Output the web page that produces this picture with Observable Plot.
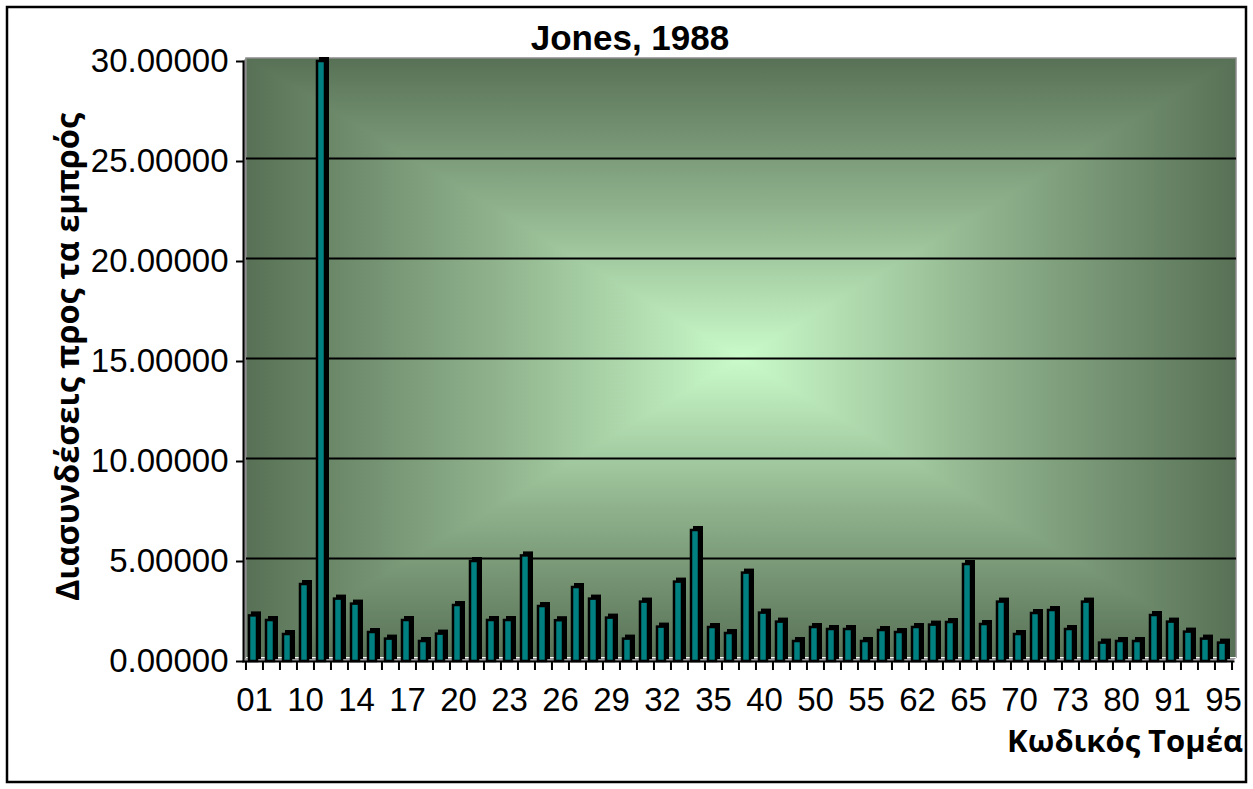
<!DOCTYPE html>
<html>
<head>
<meta charset="utf-8">
<script src="https://cdn.jsdelivr.net/npm/d3@7"></script>
<script src="https://cdn.jsdelivr.net/npm/@observablehq/plot@0.6"></script>
<style>
  body { margin: 0; background: #fff; }
  #chart { width: 1253px; height: 789px; }
</style>
</head>
<body>
<div id="chart"></div>
<script>
// Sector codes (NACE two-digit) along the x axis
const codes = ["01","02","05","10","11","13","14","15","16","17","18","19","20","21","22",
  "23","24","25","26","27","28","29","30","31","32","33","34","35","36","37","40","41",
  "45","50","51","52","55","60","61","62","63","64","65","66","67","70","71","72","73",
  "74","75","80","85","90","91","92","93","95"];

// Forward linkages per sector
const linkages = [2.28, 2.05, 1.35, 3.85, 30.0, 3.12, 2.87, 1.45, 1.12, 2.05, 1.00, 1.37,
  2.80, 5.00, 2.05, 2.05, 5.28, 2.75, 2.04, 3.70, 3.12, 2.17, 1.12, 2.97, 1.72, 3.97,
  6.55, 1.70, 1.40, 4.42, 2.42, 1.97, 1.00, 1.70, 1.60, 1.60, 1.00, 1.55, 1.45, 1.70,
  1.82, 1.95, 4.85, 1.85, 2.97, 1.35, 2.40, 2.55, 1.60, 2.97, 0.92, 1.00, 1.00, 2.30,
  1.97, 1.47, 1.12, 0.92];

// Labelled codes on the category axis (every third sector)
const xTickLabels = ["01","10","14","17","20","23","26","29","32","35","40","50","55",
  "62","65","70","73","80","91","95"];

// Value axis ticks
const yTicks = [0, 5, 10, 15, 20, 25, 30];

const title = "Jones, 1988";
const xTitle = "Κωδικός Τομέα";
const yTitle = "Διασυνδέσεις προς τα εμπρός";

const data = codes.map((code, i) => ({code, value: linkages[i]}));

const W = 1253, H = 789;
const mL = 243, mR = 20, mT = 61, mB = 128;
const depth = 3;                       // offset of the back wall (pseudo 3-D)
const step = (W - mL - mR) / codes.length;

// Back wall with a rectangular "from centre" gradient, side wall and floor
function backdrop(index, scales, values, dim) {
  const L = dim.marginLeft + depth, R = dim.width - dim.marginRight + depth;
  const T = dim.marginTop - depth, B = dim.height - dim.marginBottom - depth;
  const x0 = dim.marginLeft, y0 = dim.height - dim.marginBottom;
  const cx = (L + R) / 2, cy = (T + B) / 2;
  const dark = "#587156", mid = "#8fb28c", light = "#cafbca";
  const g = d3.create("svg:g");
  const defs = g.append("defs");
  const grad = (id, x1, y1, x2, y2, stops) => {
    const lg = defs.append("linearGradient").attr("id", id)
      .attr("gradientUnits", "userSpaceOnUse")
      .attr("x1", x1).attr("y1", y1).attr("x2", x2).attr("y2", y2);
    stops.forEach(([o, c]) => lg.append("stop").attr("offset", o).attr("stop-color", c));
  };
  grad("wallH", L, 0, R, 0, [[0, dark], [0.25, mid], [0.5, light], [0.75, mid], [1, dark]]);
  grad("wallT", 0, T, 0, cy, [[0, dark], [0.5, mid], [1, light]]);
  grad("wallB", 0, B, 0, cy, [[0, dark], [0.5, mid], [1, light]]);
  g.append("rect").attr("x", L).attr("y", T).attr("width", R - L).attr("height", B - T)
    .attr("fill", "url(#wallH)");
  g.append("path").attr("d", `M${L},${T}L${R},${T}L${cx},${cy}Z`).attr("fill", "url(#wallT)");
  g.append("path").attr("d", `M${L},${B}L${R},${B}L${cx},${cy}Z`).attr("fill", "url(#wallB)");
  // wall edges
  g.append("path").attr("d", `M${L},${B}L${L},${T}L${R},${T}L${R},${B}`)
    .attr("fill", "none").attr("stroke", "#8c8c8c").attr("stroke-width", 1.5);
  // side wall
  g.append("path").attr("d", `M${x0},${dim.marginTop}L${L},${T}L${L},${B}L${x0},${y0}Z`)
    .attr("fill", "#8a8a8a");
  // floor
  g.append("path").attr("d", `M${x0},${y0}L${L},${B}L${R},${B}L${R - depth},${y0}Z`)
    .attr("fill", "#9c9c9c");
  g.append("line").attr("x1", L).attr("x2", R).attr("y1", B - 0.5).attr("y2", B - 0.5)
    .attr("stroke", "#ffffff").attr("stroke-width", 1.2);
  return g.node();
}

// Chart title, axis titles and the outer chart border
function annotations(index, scales, values, dim) {
  const g = d3.create("svg:g");
  g.append("text").attr("x", 630).attr("y", 50).attr("text-anchor", "middle")
    .attr("font-family", "'Liberation Sans', Arial, sans-serif").attr("font-weight", "bold")
    .attr("font-size", 35).attr("fill", "black").text(title);
  g.append("text").attr("x", 1243).attr("y", 752).attr("text-anchor", "end")
    .attr("font-family", "'Open Sans', 'Noto Sans', sans-serif").attr("font-weight", "bold")
    .attr("font-size", 31).attr("fill", "black").text(xTitle);
  g.append("text").attr("transform", "translate(66,357) rotate(-90)")
    .attr("text-anchor", "middle").attr("dominant-baseline", "central")
    .attr("font-family", "'Open Sans', 'Noto Sans', sans-serif").attr("font-weight", "bold")
    .attr("font-size", 32.5).attr("fill", "black").text(yTitle);
  g.append("rect").attr("x", 7).attr("y", 7).attr("width", 1239).attr("height", 775)
    .attr("fill", "none").attr("stroke", "black").attr("stroke-width", 2.5);
  return g.node();
}

const chart = Plot.plot({
  width: W,
  height: H,
  marginLeft: mL,
  marginRight: mR,
  marginTop: mT,
  marginBottom: mB,
  style: {background: "white", fontFamily: "'Liberation Sans', Arial, sans-serif", color: "black"},
  x: {domain: codes, paddingInner: 0.54, paddingOuter: 0.27, label: null},
  y: {domain: [0, 30], label: null},
  marks: [
    backdrop,
    // gridlines on the back wall
    Plot.ruleY(yTicks.filter(d => d > 0 && d < 30), {dx: depth, dy: -depth, stroke: "black", strokeWidth: 2}),
    // dark side and top of each column
    Plot.barY(data, {x: "code", y: "value", fill: "black", stroke: "black", strokeWidth: 2, dx: 2, dy: -depth}),
    // front face of each column
    Plot.barY(data, {x: "code", y: "value", fill: "#008080", stroke: "black", strokeWidth: 2.5, dx: -1}),
    Plot.frame({anchor: "left", stroke: "black", strokeWidth: 2}),
    Plot.frame({anchor: "bottom", stroke: "black", strokeWidth: 2}),
    // category boundary ticks
    Plot.ruleX(codes, {x: d => d, y1: 0, y2: -0.45, dx: -step / 2, stroke: "black", strokeWidth: 2}),
    Plot.ruleX(codes.slice(-1), {x: d => d, y1: 0, y2: -0.45, dx: step / 2, stroke: "black", strokeWidth: 2}),
    Plot.axisY({ticks: yTicks, tickFormat: d => d.toFixed(5), tickSize: 7, tickPadding: 8,
      fontSize: 33, strokeWidth: 2, label: null}),
    Plot.axisX({ticks: xTickLabels, tickSize: 0, tickPadding: 26, fontSize: 33, label: null}),
    annotations
  ]
});

document.getElementById("chart").append(chart);
</script>
</body>
</html>
